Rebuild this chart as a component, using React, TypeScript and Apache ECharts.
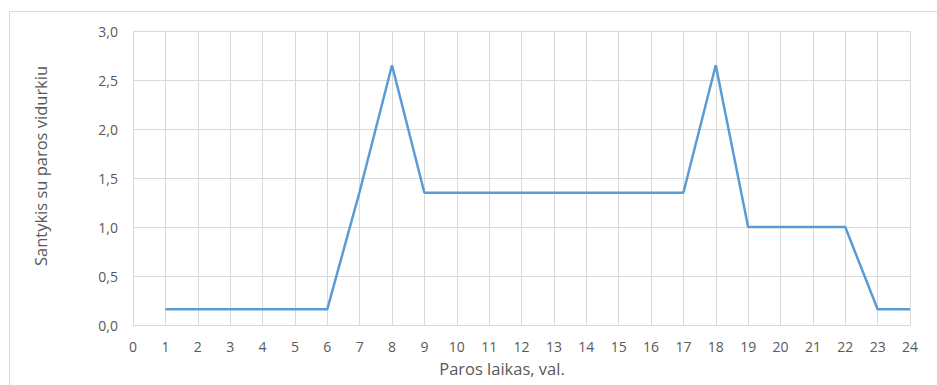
import React, { useEffect, useRef } from "react";
import * as echarts from "echarts";

const hours = [1, 2, 3, 4, 5, 6, 7, 8, 9, 10, 11, 12, 13, 14, 15, 16, 17, 18, 19, 20, 21, 22, 23, 24];
const ratios = [0.16, 0.16, 0.16, 0.16, 0.16, 0.16, 1.36, 2.65, 1.35, 1.35, 1.35, 1.35, 1.35, 1.35, 1.35, 1.35, 1.35, 2.65, 1.0, 1.0, 1.0, 1.0, 0.16, 0.16];
const xTitle = "Paros laikas, val.";
const yTitle = "Santykis su paros vidurkiu";

const FONT = "'Open Sans', 'Liberation Sans', sans-serif";
const TEXT = "#595959";
const GRID = "#d9d9d9";

export default function App() {
  const ref = useRef<HTMLDivElement>(null);
  useEffect(() => {
    if (!ref.current) return;
    const chart = echarts.init(ref.current, undefined, { renderer: "svg" });
    chart.setOption({
      animation: false,
      backgroundColor: "#ffffff",
      textStyle: { fontFamily: FONT },
      graphic: [
        {
          type: "rect",
          shape: { x: 9.5, y: 11.5, width: 1000, height: 500 },
          style: { fill: "none", stroke: GRID, lineWidth: 1 },
          silent: true,
        },
        {
          type: "text",
          x: 502,
          y: 368,
          style: {
            text: xTitle,
            fill: TEXT,
            font: `16.5px ${FONT}`,
            align: "center",
            verticalAlign: "middle",
          },
          silent: true,
        },
        {
          type: "text",
          x: 40,
          y: 166,
          rotation: Math.PI / 2,
          style: {
            text: yTitle,
            fill: TEXT,
            font: `16.5px ${FONT}`,
            align: "center",
            verticalAlign: "middle",
          },
          silent: true,
        },
      ],
      grid: { left: 133, top: 31, right: 27, bottom: 60, containLabel: false },
      xAxis: {
        type: "value",
        min: 0,
        max: 24,
        interval: 1,
        axisLine: { show: true, lineStyle: { color: GRID, width: 1 } },
        axisTick: { show: false },
        axisLabel: { color: TEXT, fontSize: 14, margin: 14, fontFamily: FONT },
        splitLine: { show: true, lineStyle: { color: GRID, width: 1 } },
      },
      yAxis: {
        type: "value",
        min: 0,
        max: 3,
        interval: 0.5,
        axisLine: { show: false },
        axisTick: { show: false },
        axisLabel: {
          color: TEXT,
          fontSize: 14,
          margin: 15,
          fontFamily: FONT,
          formatter: (v: number) => v.toFixed(1).replace(".", ","),
        },
        splitLine: { show: true, lineStyle: { color: GRID, width: 1 } },
      },
      series: [
        {
          type: "line",
          data: hours.map((h, i) => [h, ratios[i]]),
          showSymbol: false,
          lineStyle: { color: "#5b9bd5", width: 2.5 },
          itemStyle: { color: "#5b9bd5" },
        },
      ],
    });
    return () => chart.dispose();
  }, []);
  return (
    <div
      ref={ref}
      style={{ position: "fixed", left: 0, top: 0, width: 937, height: 385 }}
    />
  );
}
